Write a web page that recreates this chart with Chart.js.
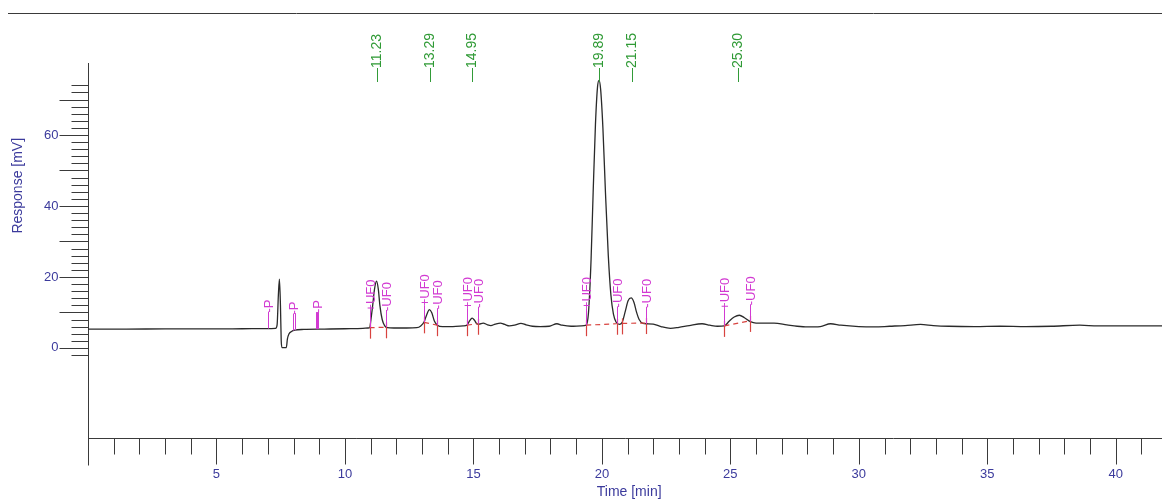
<!DOCTYPE html>
<html><head><meta charset="utf-8">
<script src="https://cdn.jsdelivr.net/npm/chart.js@4.4.0/dist/chart.umd.min.js"></script>
<style>html,body{margin:0;padding:0;background:#fff;}#wrap{width:1162px;height:500px;position:relative;}</style>
</head><body><div id="wrap"><canvas id="c" width="1162" height="500"></canvas></div>
<script>
// ---- chromatogram (time in min, response in mV) ----
const times = [0,1.5,3,4.5,6,7.0,7.3,7.36,7.41,7.45,7.49,7.52,7.55,7.72,7.76,7.82,7.92,8.05,8.4,9.2,10.0,10.7,10.9,10.96,11.03,11.08,11.15,11.23,11.3,11.36,11.45,11.55,11.65,11.9,12.4,12.8,12.95,13.08,13.18,13.29,13.38,13.48,13.6,13.8,14.2,14.6,14.75,14.85,14.95,15.04,15.12,15.22,15.38,15.55,15.68,15.85,16.05,16.22,16.4,16.6,16.85,17.05,17.3,17.6,17.95,18.25,18.45,18.8,19.2,19.39,19.48,19.58,19.66,19.75,19.83,19.89,19.95,20.04,20.14,20.25,20.35,20.45,20.55,20.68,20.79,20.91,21.02,21.14,21.25,21.34,21.45,21.6,21.75,22.0,22.3,22.67,23.0,23.4,23.9,24.2,24.5,24.77,24.95,25.15,25.35,25.55,25.78,26.0,26.7,27.2,27.6,28.0,28.5,28.9,29.3,30.0,30.6,31.2,31.8,32.4,32.9,33.5,34.5,35.5,36.5,37.5,38.6,39.3,40.2,41.0,41.8];
const response = [5.3,5.3,5.35,5.35,5.4,5.45,5.5,6.5,15,19.4,12,2,0.1,0.1,2.5,3.9,4.6,5.0,5.2,5.3,5.4,5.5,5.6,5.7,9.0,12,16.5,18.8,16.5,12,8,6.2,5.7,5.6,5.6,5.7,6.2,7.3,9.3,10.8,9.9,7.6,6.4,6.0,6.0,6.2,6.4,7.6,8.4,7.8,6.9,6.7,7.0,6.5,6.3,6.7,7.0,6.6,6.2,6.4,6.9,6.5,6.1,6.0,6.1,6.8,6.4,6.1,6.2,6.4,10,25,43.7,63,73.5,75.4,73,62,43.7,26,15,9.5,7.3,6.6,7.2,10.3,13.3,14.1,12.8,10.3,8.0,6.9,6.8,6.7,6.0,5.5,5.8,6.3,6.8,6.4,6.1,6.2,7.5,8.7,9.2,8.5,7.4,7.0,7.0,6.5,6.1,5.9,6.0,6.8,6.4,6.0,5.9,6.1,6.3,6.6,6.3,6.1,6.0,6.1,6.0,6.1,6.4,6.2,6.2,6.2,6.2];

// ---- peak retention-time labels ----
const peakTimes = [11.23,13.29,14.95,19.89,21.15,25.30];
const peakLabels = ['\u201411.23','\u201413.29','\u201414.95','\u201419.89','\u201421.15','\u201425.30'];

// ---- integration events ----
const eventTimes  = [7.0,7.97,8.07,8.86,8.9,8.94,10.96,11.61,13.08,13.59,14.75,15.17,19.39,20.57,21.73,24.77,25.75];
const eventTexts  = ['-P','-P','','','-P','','+UF0','-UF0','+UF0','-UF0','+UF0','-UF0','+UF0','-UF0','-UF0','+UF0','-UF0'];
const eventLevels = [5.45,4.9,5.0,5.3,5.3,5.3,5.7,5.9,7.2,6.4,6.4,6.8,6.4,6.9,6.8,6.2,7.5];

// ---- peak boundaries / baselines ----
const boundaryTimes  = [10.96,11.61,13.08,13.59,14.75,15.17,19.39,20.57,20.79,21.73,24.77,25.75];
const boundaryLevels = [5.7,5.8,7.2,6.4,6.4,6.8,6.4,6.8,6.9,7.0,6.2,7.6];
const baselineFrom = [0,2,4,6,8,10];
const baselineTo   = [1,3,5,7,9,11];

// ---- axes ----
const xMin = 0, xMax = 41.8, yMin = -25.4, yMax = 80.3;
const xMinorTicks = Array.from({length:42},(_,i)=>i);
const xLabelTicks = [5,10,15,20,25,30,35,40];
const yMinorTicks = Array.from({length:39},(_,i)=>-2+2*i);
const yLabelTicks = [0,20,40,60];
const xTitle = 'Time [min]';
const yTitle = 'Response [mV]';

const AXIS='#3a3a3a', BLUE='#3b3a9c', GREEN='#2f9a35', MAG='#d23ad2', RED='#d8433f';
const FONT='"Liberation Sans", Arial, sans-serif';

const deco = {
  id:'deco',
  beforeDatasetsDraw(chart){
    const {ctx, scales:{x,y}, chartArea:a} = chart;
    ctx.save();
    ctx.strokeStyle = AXIS; ctx.lineWidth = 1;
    ctx.beginPath(); ctx.moveTo(8,13.5); ctx.lineTo(1162,13.5); ctx.stroke();
    const x0 = Math.round(x.getPixelForValue(0))+0.5;
    const yb = Math.round(y.getPixelForValue(yMin))+0.5;
    ctx.beginPath(); ctx.moveTo(x0, a.top); ctx.lineTo(x0, yb+27); ctx.stroke();
    ctx.beginPath(); ctx.moveTo(x0, yb); ctx.lineTo(a.right, yb); ctx.stroke();
    xMinorTicks.forEach(t=>{
      if(t===0) return;
      const px = Math.round(x.getPixelForValue(t))+0.5;
      const len = (t%5===0)?26:16;
      ctx.beginPath(); ctx.moveTo(px,yb); ctx.lineTo(px,yb+len); ctx.stroke();
    });
    yMinorTicks.forEach(v=>{
      const py = Math.round(y.getPixelForValue(v))+0.5;
      const len = (v%10===0)?29:17;
      ctx.beginPath(); ctx.moveTo(x0-len,py); ctx.lineTo(x0,py); ctx.stroke();
    });
    ctx.fillStyle = BLUE; ctx.font = '13px '+FONT;
    ctx.textAlign='center'; ctx.textBaseline='middle';
    xLabelTicks.forEach(t=>{ ctx.fillText(String(t), x.getPixelForValue(t), yb+36); });
    ctx.textAlign='right';
    yLabelTicks.forEach(v=>{ ctx.fillText(String(v), x0-30, y.getPixelForValue(v)); });
    ctx.font = '14px '+FONT;
    ctx.textAlign='left';
    ctx.fillText(xTitle, x.getPixelForValue(19.8), yb+54);
    ctx.save();
    ctx.translate(18, y.getPixelForValue(45.7)); ctx.rotate(-Math.PI/2);
    ctx.textAlign='center'; ctx.fillText(yTitle,0,0);
    ctx.restore();
    ctx.restore();
  },
  afterDatasetsDraw(chart){
    const {ctx, scales:{x,y}} = chart;
    ctx.save();
    ctx.strokeStyle = RED; ctx.lineWidth = 1.2; ctx.setLineDash([5,4]);
    baselineFrom.forEach((f,i)=>{
      const t = baselineTo[i];
      ctx.beginPath();
      ctx.moveTo(x.getPixelForValue(boundaryTimes[f]), y.getPixelForValue(boundaryLevels[f]));
      ctx.lineTo(x.getPixelForValue(boundaryTimes[t]), y.getPixelForValue(boundaryLevels[t]));
      ctx.stroke();
    });
    ctx.setLineDash([]);
    boundaryTimes.forEach((t,i)=>{
      const px = Math.round(x.getPixelForValue(t))+0.5, py = y.getPixelForValue(boundaryLevels[i]);
      ctx.beginPath(); ctx.moveTo(px,py-5); ctx.lineTo(px,py+11); ctx.stroke();
    });
    ctx.strokeStyle = MAG; ctx.fillStyle = MAG; ctx.lineWidth = 1;
    ctx.font = '13px '+FONT; ctx.textAlign='left'; ctx.textBaseline='middle';
    eventTimes.forEach((t,i)=>{
      const px = Math.round(x.getPixelForValue(t))+0.5, py = y.getPixelForValue(eventLevels[i]);
      ctx.beginPath(); ctx.moveTo(px,py); ctx.lineTo(px,py-17); ctx.stroke();
      if(eventTexts[i]){
        ctx.save(); ctx.translate(px+0.5, py-16); ctx.rotate(-Math.PI/2);
        ctx.fillText(eventTexts[i],0,0); ctx.restore();
      }
    });
    ctx.fillStyle = GREEN; ctx.font = '14px '+FONT;
    peakTimes.forEach((t,i)=>{
      ctx.save(); ctx.translate(x.getPixelForValue(t)+0.5, 82); ctx.rotate(-Math.PI/2);
      ctx.fillText(peakLabels[i],0,0); ctx.restore();
    });
    ctx.restore();
  }
};

new Chart(document.getElementById('c'), {
  type:'line',
  data:{ datasets:[{
    data: times.map((t,i)=>({x:t,y:response[i]})),
    borderColor:'#2a2a2a', borderWidth:1.3, pointRadius:0, fill:false,
    cubicInterpolationMode:'monotone'
  }]},
  options:{
    responsive:false, animation:false, devicePixelRatio:1,
    layout:{padding:{left:88,right:0,top:63,bottom:62}},
    scales:{
      x:{type:'linear',min:xMin,max:xMax,display:false},
      y:{type:'linear',min:yMin,max:yMax,display:false}
    },
    plugins:{legend:{display:false},tooltip:{enabled:false}}
  },
  plugins:[deco]
});
</script></body></html>
